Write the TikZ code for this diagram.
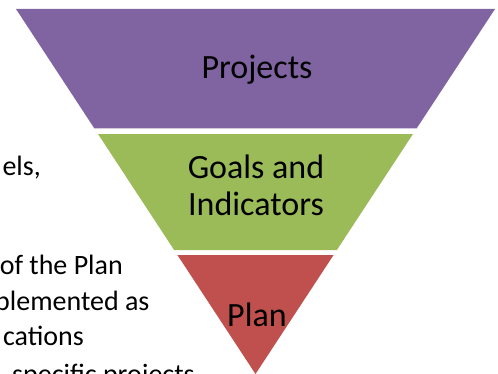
\documentclass[tikz,border=0pt]{standalone}
\usepackage{fontspec}
\setmainfont{Carlito}
\usetikzlibrary{calc}

\definecolor{projpurple}{HTML}{8064A2}
\definecolor{goalgreen}{HTML}{9BBB59}
\definecolor{planred}{HTML}{C0504D}

\begin{document}
\begin{tikzpicture}[
    x=1pt, y=-1pt,
    bandlabel/.style={
        font=\fontsize{34}{40}\selectfont,
        inner sep=0pt,
        anchor=base,
    },
    sidetext/.style={
        font=\fontsize{28}{36}\selectfont,
        inner sep=0pt,
        anchor=base east,
    },
]

    \useasboundingbox (0,0) rectangle (498,374);

    \coordinate (tl)   at (16,9);
    \coordinate (tr)   at (495,9);
    \coordinate (apex) at (255.5,374);

    % funnel bands
    \fill[projpurple] (tl) -- (tr) -- ($(tr)!0.3274!(apex)$) -- ($(tl)!0.3274!(apex)$) -- cycle;
    \fill[goalgreen] ($(tl)!0.3425!(apex)$) -- ($(tr)!0.3425!(apex)$)
        -- ($(tr)!0.6603!(apex)$) -- ($(tl)!0.6603!(apex)$) -- cycle;
    \fill[planred] ($(tl)!0.6740!(apex)$) -- ($(tr)!0.6740!(apex)$) -- (apex) -- cycle;

    \node[bandlabel] (projects)   at (257,79)  {Projects};
    \node[bandlabel] (goals)      at (256,179) {Goals and};
    \node[bandlabel] (indicators) at (256,215) {Indicators};
    \node[bandlabel] (plan)       at (257,326) {Plan};

    % text on the left, cut by the page edge
    \node[sidetext] (levels)  at (41,176)  {els,};
    \node[sidetext] (ofplan)  at (123,274) {of the Plan};
    \node[sidetext, anchor=base west] (implem) at (-5,310) {plemented as};
    \node[sidetext] (locat)   at (84,345)  {cations};
    \node[sidetext, anchor=base west] (specific) at (12,383) {specific projects};

\end{tikzpicture}
\end{document}
